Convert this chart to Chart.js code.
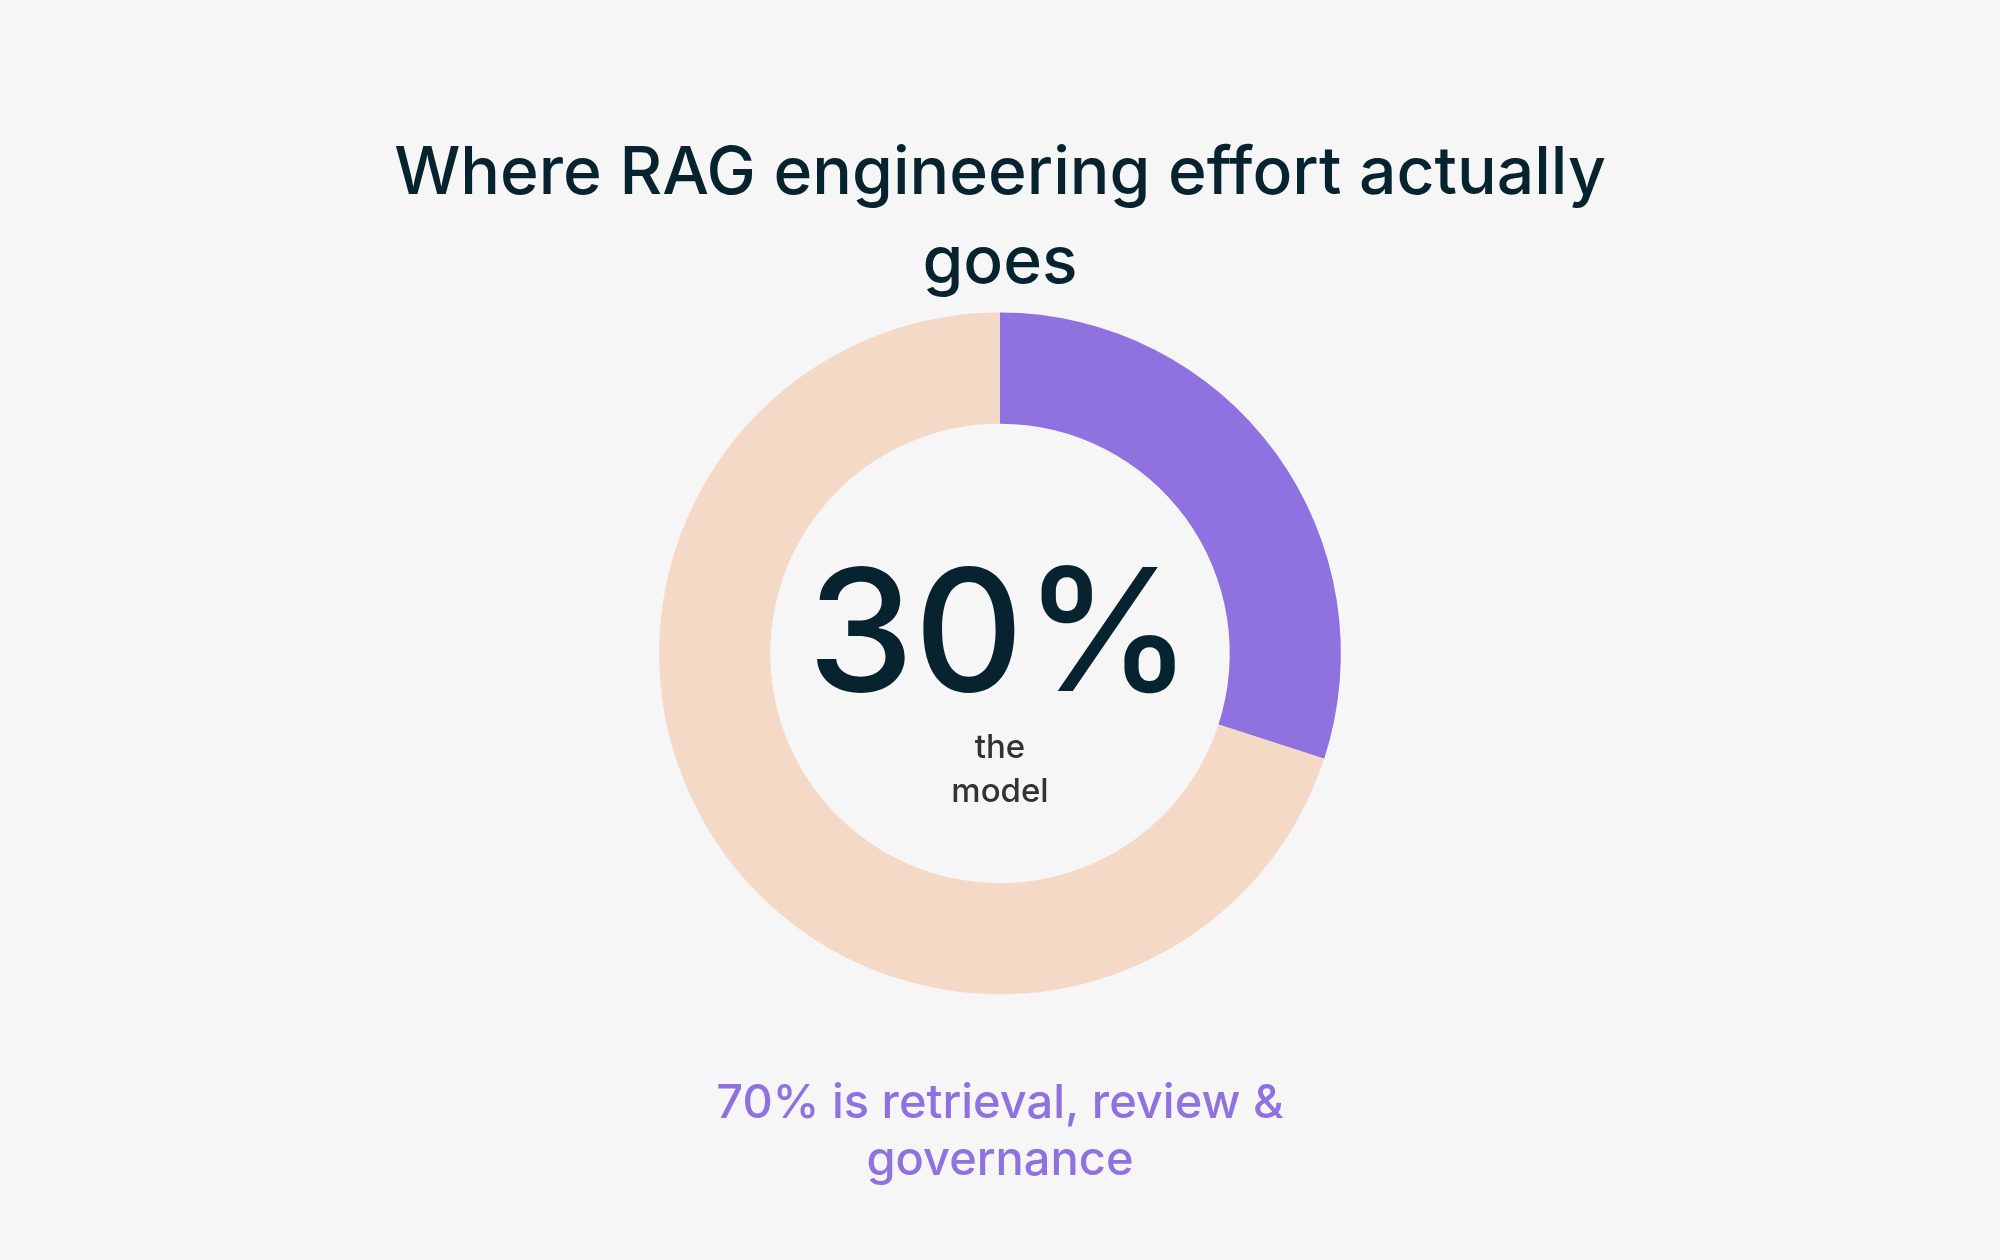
<!DOCTYPE html>
<html>
<head>
<meta charset="utf-8">
<style>
  html, body { margin: 0; padding: 0; background: #f6f6f6; }
  #wrap { width: 2000px; height: 1260px; }
</style>
<script src="https://cdn.jsdelivr.net/npm/chart.js@4/dist/chart.umd.min.js"></script>
</head>
<body>
<div id="wrap"><canvas id="chart"></canvas></div>
<script>
const labels = ['The model', 'Retrieval, review & governance'];
const values = [30, 70];
const colors = ['#9071e0', '#f4dac6'];
const titleLines = ['Where RAG engineering effort actually', 'goes'];
const subtitleLines = ['70% is retrieval, review &', 'governance'];
const centerValue = '30%';
const centerLabel = ['the', 'model'];

const FONT = "Inter, 'Noto Sans', sans-serif";

// draws the big number and caption in the hole of the doughnut
const centerText = {
    id: 'centerText',
    afterDatasetsDraw(chart) {
        const arc = chart.getDatasetMeta(0).data[0];
        if (!arc) return;
        const ctx = chart.ctx;
        const x = arc.x, y = arc.y;
        ctx.save();
        ctx.textAlign = 'center';
        ctx.textBaseline = 'alphabetic';
        ctx.fillStyle = '#06232f';
        ctx.font = `500 170px ${FONT}`;
        ctx.fillText(centerValue, x, y + 38);
        ctx.fillStyle = '#333333';
        ctx.font = `500 33px ${FONT}`;
        centerLabel.forEach((line, i) => {
            ctx.fillText(line, x, y + 105 + i * 44);
        });
        ctx.restore();
    }
};

new Chart(document.getElementById('chart'), {
    type: 'doughnut',
    data: {
        labels: labels,
        datasets: [{
            data: values,
            backgroundColor: colors,
            borderWidth: 0,
            hoverOffset: 0
        }]
    },
    options: {
        responsive: true,
        maintainAspectRatio: false,
        animation: false,
        cutout: '67.4%',
        layout: { padding: { top: 100, bottom: 61 } },
        plugins: {
            legend: { display: false },
            tooltip: { enabled: false },
            title: {
                display: true,
                text: titleLines,
                color: '#06232f',
                font: { family: FONT, size: 66, weight: '500', lineHeight: 1.36 },
                padding: { top: 29, bottom: 4 }
            },
            subtitle: {
                display: true,
                position: 'bottom',
                text: subtitleLines,
                color: '#9071e0',
                font: { family: FONT, size: 47, weight: '500', lineHeight: 1.21 },
                padding: { top: 81, bottom: 10 }
            }
        }
    },
    plugins: [centerText]
});
</script>
</body>
</html>
